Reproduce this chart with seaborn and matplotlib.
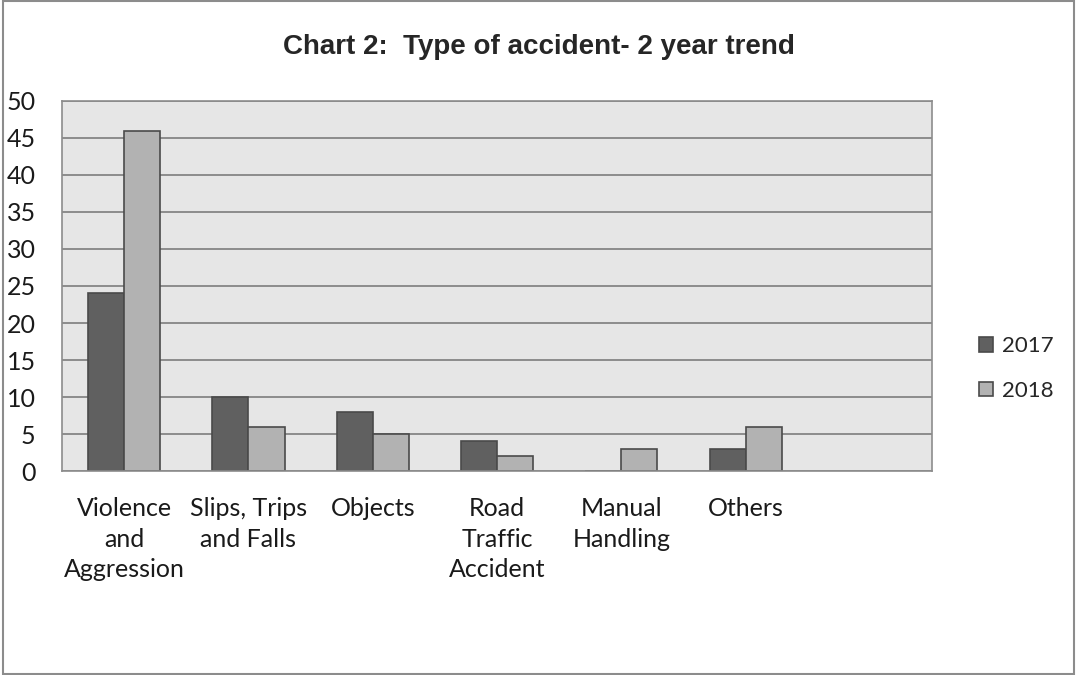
import pandas as pd
import seaborn as sb
import matplotlib.pyplot as plt
from matplotlib.patches import Rectangle

categories = ['Violence\nand\nAggression', 'Slips, Trips\nand Falls', 'Objects',
              'Road\nTraffic\nAccident', 'Manual\nHandling', 'Others']
years = ['2017', '2018']
vals_2017 = [24, 10, 8, 4, 0, 3]
vals_2018 = [46, 6, 5, 2, 3, 6]

df = pd.DataFrame({
    'type': categories * 2,
    'count': vals_2017 + vals_2018,
    'year': [years[0]] * len(categories) + [years[1]] * len(categories),
})

sb.set_style('white')
plt.rcParams['font.family'] = ['Lato', 'DejaVu Sans']

fig = plt.figure(figsize=(10.77, 6.75), dpi=100)
ax = fig.add_axes([0.0576, 0.3022, 0.8078, 0.5482])

sb.barplot(data=df, x='type', y='count', hue='year', order=categories,
           palette=['#606060', '#b2b2b2'], width=0.58, edgecolor='#4a4a4a',
           linewidth=1.2, saturation=1, ax=ax)

ax.set_facecolor('#e6e6e6')
ax.set_xlim(-0.5, 6.5)
ax.set_ylim(0, 50)
ax.set_yticks(range(0, 51, 5))
ax.yaxis.grid(True, color='#8c8c8c', linewidth=1.4)
ax.set_axisbelow(True)
for s in ax.spines.values():
    s.set_color('#8c8c8c')
    s.set_linewidth(1.2)
ax.tick_params(axis='y', length=0, pad=19, labelsize=18, colors='#1a1a1a')
ax.tick_params(axis='x', length=0, pad=19, labelsize=18, colors='#1a1a1a')
for lab in ax.get_xticklabels():
    lab.set_linespacing(1.38)
ax.set_xlabel('')
ax.set_ylabel('')

ax.legend(loc='center left', bbox_to_anchor=(0.909, 0.454), bbox_transform=fig.transFigure,
          frameon=False, fontsize=16, handlelength=0.65, handleheight=0.65,
          handletextpad=0.4, labelspacing=1.1, borderpad=0, borderaxespad=0)

fig.text(0.5, 0.93, 'Chart 2:  Type of accident- 2 year trend', ha='center', va='center',
         fontsize=20, fontweight='bold', family=['Liberation Sans', 'DejaVu Sans'])

fig.patches.append(Rectangle((0.003, 0.002), 0.994, 0.996, transform=fig.transFigure,
                             fill=False, edgecolor='#8c8c8c', linewidth=1.5))

fig.savefig('out.png', dpi=100)
